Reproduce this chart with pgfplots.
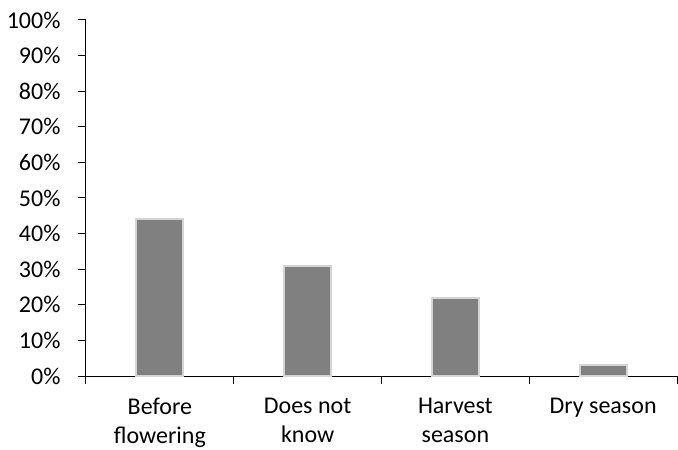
\documentclass[border=0pt]{standalone}
\usepackage{fontspec}
\setmainfont{Carlito}
\usepackage{pgfplots}
\pgfplotsset{compat=1.18}
\definecolor{barfill}{HTML}{808080}
\definecolor{baredge}{HTML}{D4D4D4}
\begin{document}
\begin{tikzpicture}
\useasboundingbox (-86pt,-74pt) rectangle (592pt,376pt);
\begin{axis}[
  at={(0,0)}, anchor=south west,
  scale only axis,
  width=591pt, height=356pt,
  xmin=-0.5, xmax=3.5,
  ymin=0, ymax=100,
  axis x line*=bottom, axis y line*=left,
  axis line style={black, line width=1pt},
  xtick={0,1,2,3},
  xticklabels={Before\\flowering, Does not\\know, Harvest\\season, Dry season},
  minor xtick={-0.5,0.5,1.5,2.5,3.5},
  major x tick style={draw=none},
  minor x tick style={black, line width=1pt},
  minor tick length=8pt,
  ytick={0,10,...,100},
  y tick style={black, line width=1pt},
  major tick length=8pt,
  tick align=outside,
  /pgf/number format/assume math mode=true,
  yticklabel={\pgfmathprintnumber{\tick}\%},
  tick label style={font=\fontsize{24}{29}\selectfont},
  x tick label style={align=center, yshift=-11pt},
  y tick label style={xshift=-14pt},
  ybar, bar width=47pt,
  clip=false,
]
\addplot[fill=barfill, draw=baredge, line width=2pt] coordinates {(0,44) (1,31) (2,22) (3,3)};
\end{axis}
\end{tikzpicture}
\end{document}
